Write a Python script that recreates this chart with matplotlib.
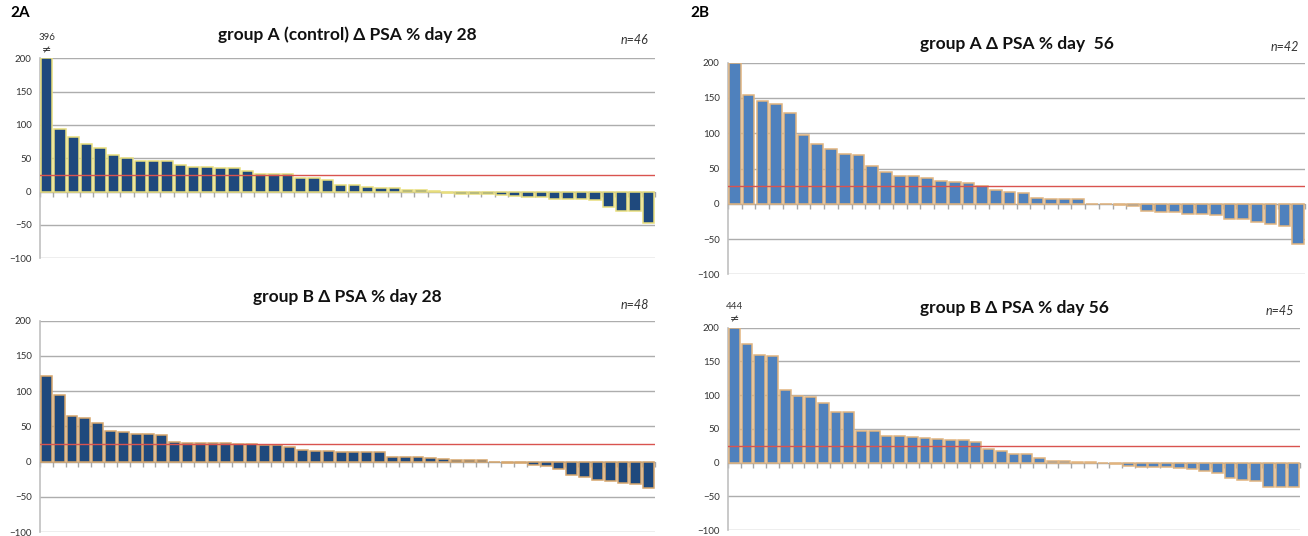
import numpy as np
import matplotlib.pyplot as plt

# delta PSA % per patient, sorted
a_day28 = [396, 94, 82, 72, 66, 55, 50, 46, 46, 46, 40, 37, 37, 35, 35, 31, 27, 27, 26, 21,
           20, 17, 10, 10, 7, 5, 5, 3, 2, 0.5, -2, -4, -4, -4, -5, -7, -9, -9, -12, -12,
           -12, -13, -23, -29, -30, -47]
b_day28 = [121, 94, 65, 62, 55, 44, 42, 39, 39, 38, 28, 26.5, 26.5, 26.5, 26.5, 25.5, 25.5,
           23.5, 23.5, 20, 16, 14.5, 14.5, 14, 14, 14, 14, 7, 7, 6, 5, 4, 2.5, 2, 2, 0,
           -1.5, -2.5, -5, -6, -11, -18.5, -21.5, -26, -27, -30, -32, -38]
a_day56 = [200, 154, 145, 142, 128, 98, 85, 77, 70, 69, 53, 45, 40, 40, 36, 32, 31, 30, 25,
           20, 17, 15.5, 8.5, 7, 7, 7, 0, -1, -2, -3, -10.5, -11, -11, -15, -15, -16, -21,
           -22, -26, -28, -31, -57]
b_day56 = [444, 176, 160, 158.5, 108, 99, 97, 88, 74.5, 74.5, 47, 47, 39, 39, 38, 36.5,
           35.5, 33.5, 33.5, 31, 20, 16.5, 12.5, 12.5, 7.5, 2.5, 2.5, 1.5, 0.5, -1, -2,
           -4.5, -6, -6, -6, -8, -9, -12, -16, -23, -26, -28, -36, -36, -36]

titles = ["group A (control) \u0394 PSA % day 28", "group B \u0394 PSA % day 28",
          "group A \u0394 PSA % day  56", "group B \u0394 PSA % day 56"]
ymax = 200
threshold = 25

plt.rcParams['font.family'] = ['Lato', 'DejaVu Sans']

fig = plt.figure(figsize=(13.08, 5.36), dpi=100)
W, H = 1308, 536


def px_axes(x0, x1, ytop, ybot):
    return fig.add_axes([x0 / W, 1 - ybot / H, (x1 - x0) / W, (ybot - ytop) / H])


# data, axes, title, n label, bar colour, edge colour, title offset (px), n offset (px)
panels = [
    (a_day28, px_axes(40, 655, 58.5, 258), titles[0], "n=46", '#1F497D', '#E8DE7C', 23.5, 18),
    (b_day28, px_axes(40, 655, 320.7, 532), titles[1], "n=48", '#1F497D', '#D6A66C', 23.5, 16),
    (a_day56, px_axes(728, 1305, 62.7, 274.3), titles[2], "n=42", '#4F81BD', '#E2B47E', 19, 16),
    (b_day56, px_axes(728, 1300, 327.7, 530), titles[3], "n=45", '#4F81BD', '#E2B47E', 19.5, 17),
]

for vals, ax, title, ntext, fc, ec, toff, noff in panels:
    vals = np.array(vals, dtype=float)
    n = len(vals)
    x = np.arange(n)
    ax.bar(x, np.minimum(vals, ymax), width=0.85, color=fc, edgecolor=ec, linewidth=1.1,
           zorder=3)
    ax.axhline(threshold, color='#D9534F', lw=1, zorder=4)
    ax.set_xlim(-0.5, n - 0.5)
    ax.set_ylim(-100, 200)
    ax.set_yticks(np.arange(-100, 201, 50))
    ax.yaxis.grid(True, color='#ADADAD', lw=1, zorder=0)
    ax.tick_params(axis='y', length=0, labelsize=7, pad=6, labelcolor='#333333')
    ax.set_xticks(np.arange(n + 1) - 0.5)
    ax.set_xticklabels([])
    ax.tick_params(axis='x', direction='out', length=3.5, color='#A6A6A6', width=1)
    ax.spines['bottom'].set_position(('data', 0))
    ax.spines['bottom'].set_color('#A6A6A6')
    ax.spines['left'].set_color('#C0C0C0')
    ax.spines['left'].set_linewidth(1.2)
    for s in ('top', 'right'):
        ax.spines[s].set_visible(False)
    ax.annotate(title, xy=(0.5, 1), xycoords='axes fraction', xytext=(0, toff * 0.72),
                textcoords='offset points', ha='center', va='center', fontsize=12.5,
                fontweight='bold', color='#111111')
    ax.annotate(ntext, xy=(0.99, 1), xycoords='axes fraction', xytext=(0, noff * 0.72),
                textcoords='offset points', ha='right', va='center', fontsize=9,
                style='italic', color='#333333')
    # values beyond the axis limit are written above the bar
    for xi, v in zip(x, vals):
        if v > ymax:
            ax.text(xi, ymax + 32, f"{v:g}", ha='center', va='center', fontsize=7,
                    color='#333333', clip_on=False)
            ax.text(xi, ymax + 12, "\u2260", ha='center', va='center', fontsize=8,
                    color='#333333', family='DejaVu Sans', clip_on=False)

fig.text(10 / W, 1 - 13 / H, "2A", fontsize=11, fontweight='bold', va='center')
fig.text(690 / W, 1 - 13 / H, "2B", fontsize=11, fontweight='bold', va='center')

fig.savefig('out.png', dpi=100)
